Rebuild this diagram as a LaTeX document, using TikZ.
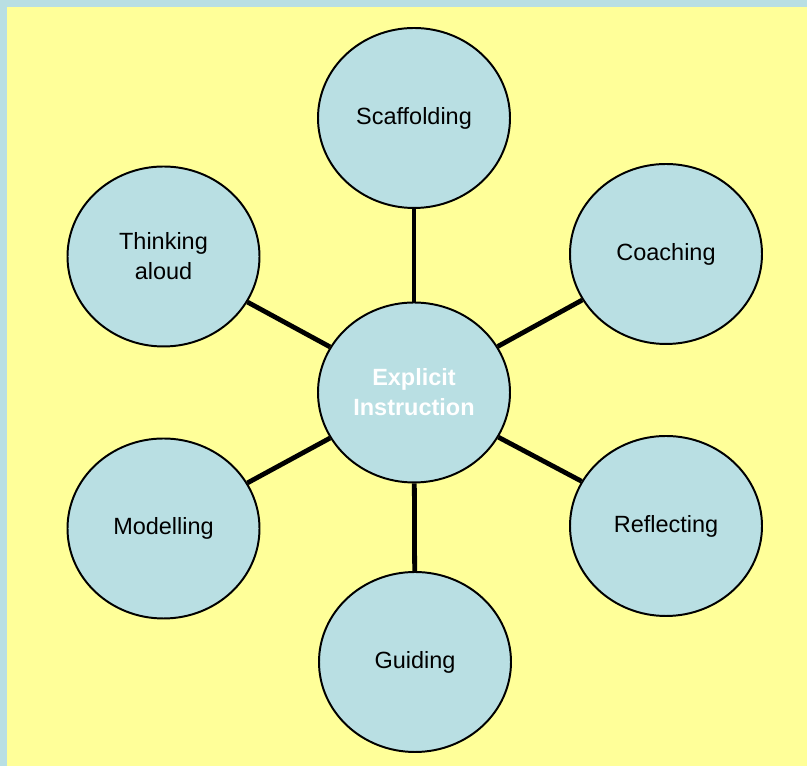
\documentclass[tikz,border=0pt]{standalone}
\usepackage{fontspec}
\setmainfont{Liberation Sans}
\usetikzlibrary{shapes.geometric}

\definecolor{paper}{RGB}{255,255,153}
\definecolor{frame}{RGB}{185,223,227}
\definecolor{bubblefill}{RGB}{185,223,227}

\begin{document}
\begin{tikzpicture}
	\tikzset{bubble/.style={
		ellipse, draw=black, line width=1.4pt, fill=bubblefill,
		minimum width=4.8cm, minimum height=4.5cm, inner sep=0pt,
		align=center, font=\fontsize{16.7}{21.3}\selectfont
	}}
	\tikzset{hub/.style={
		bubble, text=white, font=\fontsize{16.7}{21.3}\selectfont\bfseries
	}}
	\tikzset{spoke/.style={
		line width=3.4pt
	}}

	% Page
	\useasboundingbox (0,0) rectangle (20.175,19.15);
	\fill[frame] (0,0) rectangle (20.175,19.15);
	\fill[paper] (0.175,0) rectangle (20.175,18.975);

	% Hub
	\node (Explicit) [hub] at (10.35,9.3375) {Explicit\\Instruction};

	% Bubbles round the hub
	\node (Scaffolding) [bubble, yshift=6.8625cm] at (Explicit) {Scaffolding};
	\node (Coaching) [bubble, shift={(6.3cm, 3.4625cm)}] at (Explicit) {Coaching};
	\node (Reflecting) [bubble, shift={(6.3cm, -3.3375cm)}] at (Explicit) {Reflecting};
	\node (Guiding) [bubble, shift={(0.025cm, -6.7375cm)}] at (Explicit) {Guiding};
	\node (Modelling) [bubble, shift={(-6.2625cm, -3.4cm)}] at (Explicit) {Modelling};
	\node (Thinking) [bubble, shift={(-6.2625cm, 3.4cm)}] at (Explicit) {Thinking\\aloud};

	% Spokes
	\foreach \n in {Scaffolding, Coaching, Reflecting, Guiding, Modelling, Thinking}
		\draw[spoke] (Explicit) -- (\n);
\end{tikzpicture}
\end{document}
